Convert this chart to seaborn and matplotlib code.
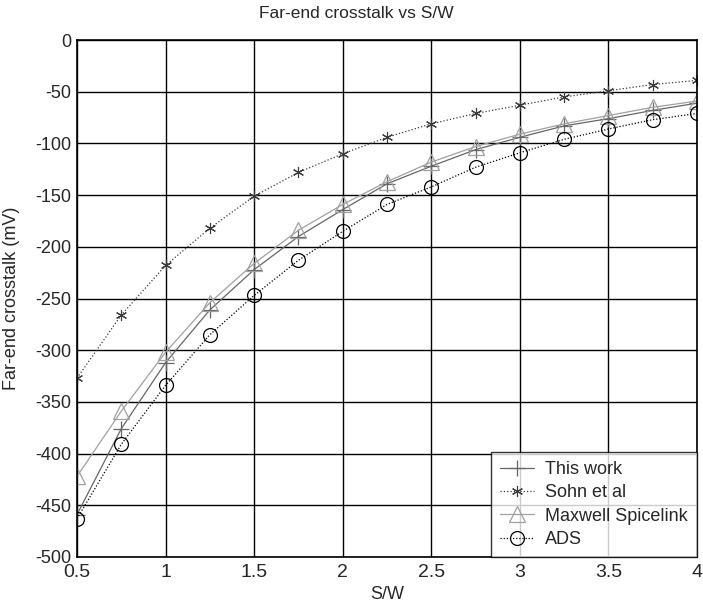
import numpy as np
import pandas as pd
import seaborn as sns
import matplotlib.pyplot as plt

sns.set_style("white")
plt.rcParams['font.family'] = ['Liberation Sans', 'DejaVu Sans']
plt.rcParams['axes.unicode_minus'] = False

# S/W ratio
sw = [0.5, 0.75, 1.0, 1.25, 1.5, 1.75, 2.0, 2.25, 2.5, 2.75, 3.0, 3.25, 3.5, 3.75, 4.0]

# far-end crosstalk (mV)
this_work = [-459, -376, -312, -261, -222, -190, -164, -139, -122, -106, -94, -83, -76, -68, -61]
sohn = [-327, -266, -218, -182, -151, -128, -110, -94, -81, -71, -63, -55, -49, -43, -39]
maxwell = [-422, -359, -302, -254, -216, -184, -159, -137, -118, -103, -91, -81, -73, -65, -59]
ads = [-463, -391, -334, -285, -247, -213, -185, -159, -142, -123, -109, -96, -86, -77, -71]

series = [
    ("This work", this_work, dict(color="#666666", marker="+", linestyle="-", markersize=12, markeredgewidth=0.9)),
    ("Sohn et al", sohn, dict(color="#3a3a3a", marker=(6, 2, 0), linestyle=":", markersize=8, markeredgewidth=0.8)),
    ("Maxwell Spicelink", maxwell, dict(color="#a0a0a0", marker="^", linestyle="-", markersize=11,
                                        markerfacecolor="none", markeredgewidth=0.9)),
    ("ADS", ads, dict(color="black", marker="o", linestyle=(0, (1, 1.5)), markersize=10,
                      markerfacecolor="none", markeredgewidth=0.9)),
]

fig = plt.figure(figsize=(7.03, 6.11), dpi=100)
ax = fig.add_axes([0.1095, 0.0884, 0.882, 0.846])

for name, vals, st in series:
    sns.lineplot(x=sw, y=vals, ax=ax, label=name, linewidth=0.9,
                 markeredgecolor=st["color"], **st)

ax.set_xlim(0.5, 4)
ax.set_ylim(-500, 0)
ax.set_xticks([0.5, 1, 1.5, 2, 2.5, 3, 3.5, 4])
ax.set_xticklabels(['0.5', '1', '1.5', '2', '2.5', '3', '3.5', '4'])
ax.set_yticks(np.arange(-500, 1, 50))
ax.grid(True, color="black", linewidth=1.0)
ax.tick_params(direction="in", length=4, color="black")
ax.tick_params(axis="x", labelsize=14, pad=5)
ax.tick_params(axis="y", labelsize=13, pad=4)
for sp in ax.spines.values():
    sp.set_color("black")
    sp.set_linewidth(1.2)

ax.set_title("Far-end crosstalk vs S/W", fontsize=12.5, pad=16, x=0.45)
ax.set_xlabel("S/W", fontsize=13, labelpad=4)
ax.set_ylabel("Far-end crosstalk (mV)", fontsize=13)
ax.yaxis.set_label_coords(-0.092, 0.5)

leg = ax.legend(loc="lower right", fontsize=13, frameon=True, fancybox=False,
                borderaxespad=0, handlelength=1.9, handletextpad=0.6,
                labelspacing=0.35, borderpad=0.5)
leg.get_frame().set_edgecolor("black")
leg.get_frame().set_linewidth(1.0)

fig.savefig("out.png", dpi=100)
